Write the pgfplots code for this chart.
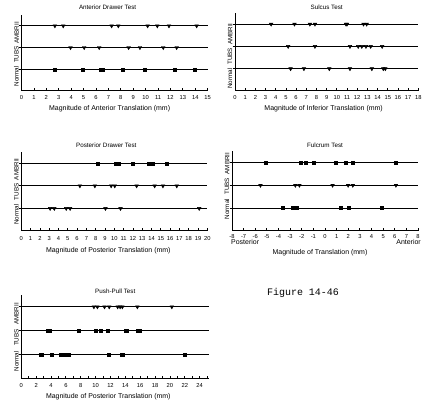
\documentclass[border=0pt]{standalone}
\usepackage{fontspec}
\setmainfont{Liberation Sans}
\newfontfamily\monofont{Liberation Mono}
\usepackage{pgfplots}
\pgfplotsset{compat=1.18}

\pgfplotsset{
  rowplot/.style={
    scale only axis,
    anchor=south west,
    axis lines=left,
    axis line style={-, line width=1bp},
    ymin=0, ymax=3.5,
    ytick={1,2,3},
    yticklabels={Normal,TUBS,AMBRII},
    yticklabel style={rotate=90, anchor=south, inner sep=0pt, font=\fontsize{6.3}{7}\selectfont},
    ymajorgrids,
    major grid style={black, line width=1bp},
    xtick distance=1,
    xtick align=inside, ytick align=outside,
    major tick length=2.5bp, minor tick length=2.5bp,
    tick style={black, line width=0.8bp},
    xticklabel style={font=\fontsize{5.8}{6}\selectfont, inner sep=0pt, yshift=-4bp},
    /pgf/number format/assume math mode=true,
    xlabel style={at={(axis description cs:0.5,0)}, anchor=north, inner sep=0pt, yshift=-14bp, font=\fontsize{7}{8}\selectfont},
    title style={at={(axis description cs:0.5,1)}, anchor=base, inner sep=0pt, font=\fontsize{6.3}{7}\selectfont},
    clip=false,
  },
  tri/.style={only marks, black, mark=triangle*, mark size=2.1bp, mark options={rotate=180, fill=black}},
  sq/.style={only marks, black, mark=square*, mark size=1.5bp},
}

\begin{document}
\begin{tikzpicture}
\useasboundingbox (0,0) rectangle (428bp,403bp);

% Anterior Drawer Test
\begin{axis}[rowplot, at={(21.5bp,312bp)}, width=186.2bp, height=76bp,
  xmin=0, xmax=15,
  title={Anterior Drawer Test}, title style={xshift=-7bp, yshift=-0.5bp},
  xlabel={Magnitude of Anterior Translation (mm)}, xlabel style={xshift=-5bp},
  yticklabel style={xshift=-7bp}]
\addplot[tri] coordinates {(2.69,3) (3.36,3) (7.26,3) (7.80,3) (10.16,3) (10.94,3) (11.88,3) (14.11,3)};
\addplot[tri] coordinates {(3.95,2) (5.05,2) (6.26,2) (8.63,2) (9.54,2) (11.42,2) (12.5,2)};
\addplot[sq] coordinates {(2.69,1) (4.97,1) (6.37,1) (6.53,1) (8.12,1) (9.89,1) (12.31,1) (13.92,1)};
\end{axis}

% Sulcus Test
\begin{axis}[rowplot, at={(235bp,312bp)}, width=183.3bp, height=78bp,
  xmin=0, xmax=18,
  title={Sulcus Test}, title style={yshift=-2.5bp},
  xlabel={Magnitude of Inferior Translation (mm)}, xlabel style={xshift=-3bp},
  yticklabel style={xshift=-10bp}]
\addplot[tri] coordinates {(3.55,3) (5.84,3) (7.35,3) (7.85,3) (10.9,3) (11.0,3) (12.62,3) (12.93,3)};
\addplot[tri] coordinates {(5.22,2) (7.85,2) (11.29,2) (12.1,2) (12.45,2) (12.86,2) (13.32,2) (14.45,2)};
\addplot[tri] coordinates {(5.46,1) (6.77,1) (9.26,1) (11.29,1) (13.44,1) (14.56,1) (14.76,1)};
\end{axis}

% Posterior Drawer Test
\begin{axis}[rowplot, at={(21.3bp,172bp)}, width=186bp, height=79bp,
  xmin=0, xmax=20,
  title={Posterior Drawer Test}, title style={xshift=-8bp, yshift=-1bp},
  xticklabel style={yshift=-1.5bp},
  xlabel={Magnitude of Posterior Translation (mm)}, xlabel style={xshift=-6bp, yshift=-2bp},
  yticklabel style={xshift=-6bp}]
\addplot[sq] coordinates {(8.17,3) (10.14,3) (10.47,3) (11.97,3) (13.75,3) (14.1,3) (15.6,3)};
\addplot[tri] coordinates {(6.3,2) (7.91,2) (9.66,2) (10.05,2) (12.4,2) (14.34,2) (15.23,2) (16.72,2)};
\addplot[tri] coordinates {(3.1,1) (3.55,1) (4.83,1) (5.25,1) (9.05,1) (10.67,1) (19.13,1)};
\end{axis}

% Fulcrum Test
\begin{axis}[rowplot, at={(232bp,172bp)}, width=186bp, height=80bp,
  xmin=-8, xmax=8,
  title={Fulcrum Test}, title style={yshift=-2bp},
  xticklabel style={yshift=1bp},
  xlabel={Magnitude of Translation (mm)}, xlabel style={xshift=-5bp, yshift=-4.5bp},
  yticklabel style={xshift=-1bp}]
\addplot[sq] coordinates {(-5.12,3) (-2.07,3) (-1.67,3) (-0.93,3) (0.93,3) (1.8,3) (2.37,3) (6.1,3)};
\addplot[tri] coordinates {(-5.55,2) (-2.55,2) (-2.2,2) (0.65,2) (1.99,2) (2.39,2) (6.1,2)};
\addplot[sq] coordinates {(-3.62,1) (-2.79,1) (-2.4,1) (1.34,1) (2.01,1) (4.9,1)};
\node[anchor=base west, inner sep=0pt, font=\fontsize{7}{8}\selectfont] at (axis description cs:0,0) [xshift=-1bp, yshift=-14bp] {Posterior};
\node[anchor=base east, inner sep=0pt, font=\fontsize{7}{8}\selectfont] at (axis description cs:1,0) [xshift=3bp, yshift=-14bp] {Anterior};
\end{axis}

% Push-Pull Test
\begin{axis}[rowplot, at={(21.3bp,25bp)}, width=188bp, height=83bp,
  xmin=0, xmax=25.3, xtick distance=2, minor x tick num=1,
  title={Push-Pull Test}, title style={yshift=-4bp},
  xticklabel style={yshift=-1.5bp},
  xlabel={Magnitude of Posterior Translation (mm)}, xlabel style={xshift=-7bp, yshift=-1bp},
  yticklabel style={xshift=-7bp}]
\addplot[tri] coordinates {(9.77,3) (10.24,3) (11.2,3) (11.83,3) (12.97,3) (13.3,3) (13.6,3) (15.62,3) (20.26,3)};
\addplot[sq] coordinates {(3.6,2) (3.8,2) (7.69,2) (9.97,2) (10.64,2) (11.56,2) (14.1,2) (14.25,2) (15.7,2) (15.9,2)};
\addplot[sq] coordinates {(2.55,1) (2.75,1) (4.05,1) (5.28,1) (5.58,1) (5.85,1) (6.32,1) (11.74,1) (13.45,1) (13.6,1) (22.03,1)};
\end{axis}

\node[font=\monofont\fontsize{10}{12}\selectfont] at (303bp,110bp) {Figure 14-46};
\end{tikzpicture}
\end{document}
